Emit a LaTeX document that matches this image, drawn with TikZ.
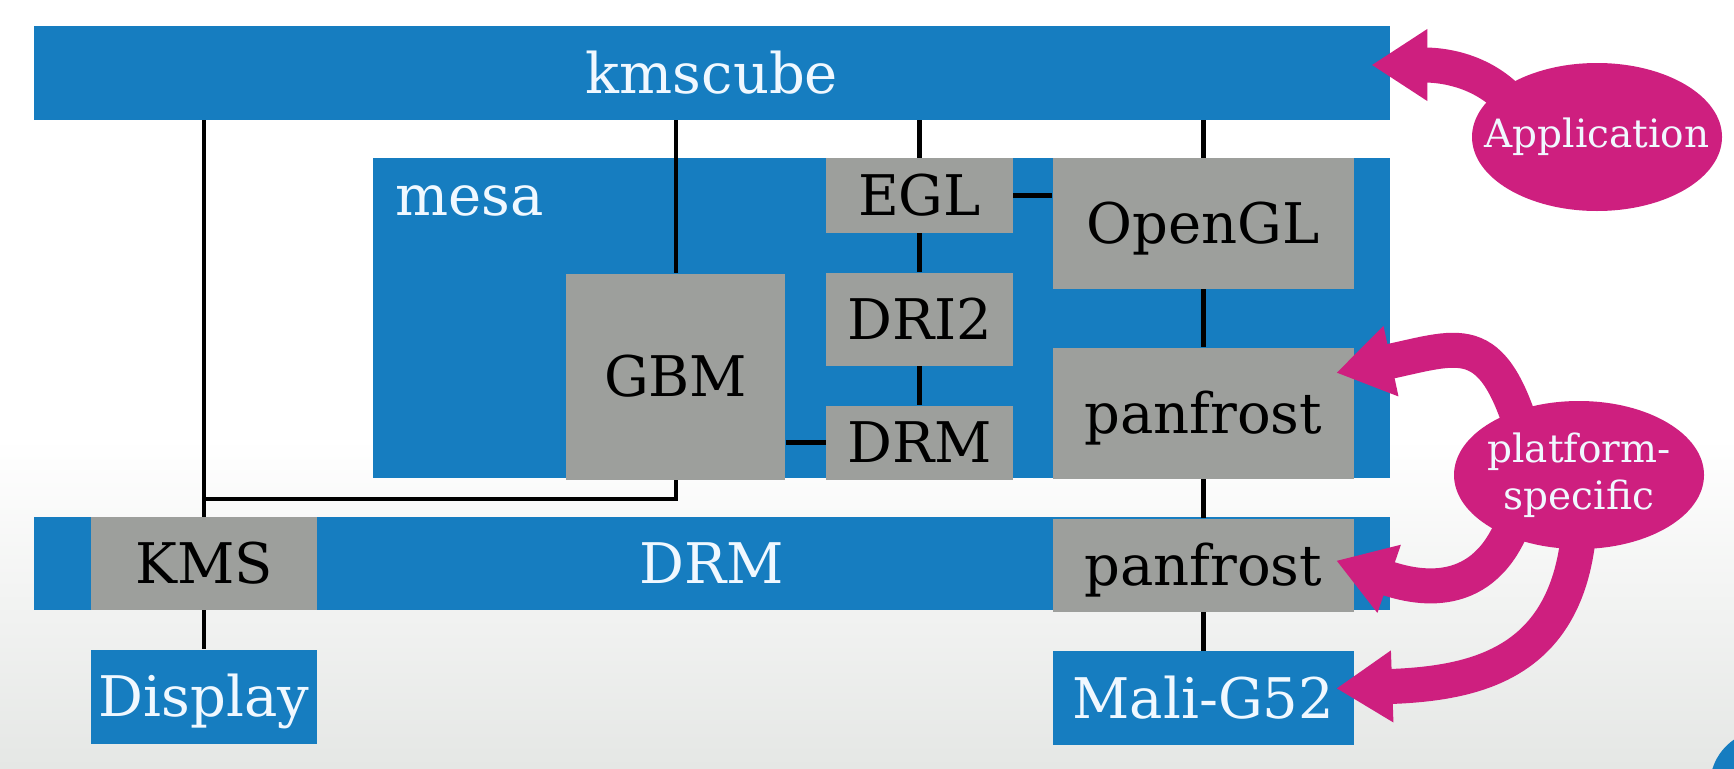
\documentclass[tikz,border=0pt]{standalone}
\usepackage{fontspec}
\setmainfont{DejaVu Serif}
\usetikzlibrary{positioning,calc,shapes.geometric,arrows.meta}
\definecolor{kblue}{RGB}{22,125,192}
\definecolor{kgrey}{RGB}{157,159,156}
\definecolor{kpink}{RGB}{206,31,127}
\definecolor{kwhite}{RGB}{240,248,255}
\definecolor{kfloor}{RGB}{229,231,229}
\pgfdeclarelayer{front}
\pgfsetlayers{main,front}

\begin{document}
\begin{tikzpicture}[x=0.5pt, y=0.5pt,
    node distance=19.5pt,
    box/.style={rectangle, inner sep=0pt, font=\fontsize{28pt}{33pt}\selectfont, text height=20pt, text depth=0pt},
    layer/.style={box, fill=kblue, text=kwhite},
    part/.style={box, fill=kgrey, text=black},
    bubble/.style={ellipse, fill=kpink, text=kwhite, inner xsep=-14pt, inner ysep=0pt, minimum width=125pt, minimum height=74pt, font=\fontsize{19.5pt}{23.5pt}\selectfont, align=center},
    link/.style={draw=black, line width=2.2pt},
    callout/.style={draw=kpink, line width=17.5pt, -{Triangle[length=28pt, width=34pt]}}
  ]
  \useasboundingbox (0,0) rectangle (1734,768);
  % backdrop
  \fill[white] (0,0) rectangle (1734,768);
  \shade[top color=white, bottom color=kfloor] (0,0) rectangle (1734,330);
  \fill[kblue] (1765,-17) circle (27.5pt);

  % userspace
  \node[layer, minimum width=678pt, minimum height=47pt] (kmscube) at (712,695) {kmscube};
  \node[layer, minimum width=508.5pt, minimum height=160pt] (mesa) at (881.5,450) {};
  \node[layer, fill=none, anchor=base west] (mesalabel) at (395,553) {mesa};
  \node[part, minimum width=93.5pt, minimum height=37.5pt] (egl) at (919.5,572.5) {EGL};
  \node[part, minimum width=93.5pt, minimum height=46.5pt, below=of egl] (dri) {DRI2};
  \node[part, minimum width=93.5pt, minimum height=37pt, below=of dri] (mdrm) {DRM};
  \node[part, minimum width=109.5pt, minimum height=103pt, anchor=south east] (gbm) at ([xshift=-20pt]mdrm.south west) {GBM};
  \node[part, minimum width=150.5pt, minimum height=65.5pt, right=of egl.north east, anchor=north west] (opengl) {OpenGL};
  \node[part, minimum width=150.5pt, minimum height=65.5pt, below=29pt of opengl] (panfrost) {panfrost};

  % kernel
  \node[layer, minimum width=678pt, minimum height=46.5pt] (drm) at (712,204.5) {DRM};
  \node[part, minimum width=112.75pt, minimum height=46.5pt] (kms) at (204,204.5) {KMS};
  \node[part, minimum width=150.5pt, minimum height=46.5pt, below=of panfrost] (kpanfrost) {panfrost};

  % hardware
  \node[layer, minimum width=112.75pt, minimum height=47pt, below=of kms] (display) {Display};
  \node[layer, minimum width=150.5pt, minimum height=47pt, below=of kpanfrost] (mali) {Mali-G52};

  % links
  \draw[link] (kmscube.south -| kms.north) -- (kms.north);
  \draw[link] (kmscube.south -| gbm.north) -- (gbm.north);
  \draw[link] (kmscube.south -| egl.north) -- (egl.north);
  \draw[link] (kmscube.south -| opengl.north) -- (opengl.north);
  \draw[link] (egl) -- (dri) -- (mdrm);
  \draw[link] (egl.east) -- (egl.east -| opengl.west);
  \draw[link] (gbm.east |- mdrm.west) -- (mdrm.west);
  \draw[link] (opengl) -- (panfrost) -- (kpanfrost) -- (mali);
  \draw[link] (kms) -- (display);
  \path (gbm.south) ++(0,-19) coordinate (gbmfoot);
  \draw[link] (gbm.south) -- (gbmfoot) -- (gbmfoot -| kms.north);

  % callouts
  \begin{pgfonlayer}{front}
  \node[bubble] (app) at (1597,631) {Application};
  \node[bubble] (platform) at (1579,293) {platform-\\specific};
  \end{pgfonlayer}
  \coordinate (appout) at ($(app.center)+(-70,14)$);
  \draw[callout] (appout) to[out=120, in=0] ([xshift=-9.5pt, yshift=4pt]kmscube.east);
  \draw[callout] ($(platform.center)+(-50,22)$) to[out=105, in=12, looseness=1.6] ([xshift=-9pt, yshift=20.25pt]panfrost.east);
  \draw[callout] ($(platform.center)+(-59,-28)$) to[out=-105, in=-19, looseness=1.3] ([xshift=-9pt, yshift=2.25pt]kpanfrost.east);
  \draw[callout] ($(platform.center)+(1,-38)$) to[out=-92, in=2, looseness=1.25] ([xshift=-9pt, yshift=5pt]mali.east);
\end{tikzpicture}
\end{document}
